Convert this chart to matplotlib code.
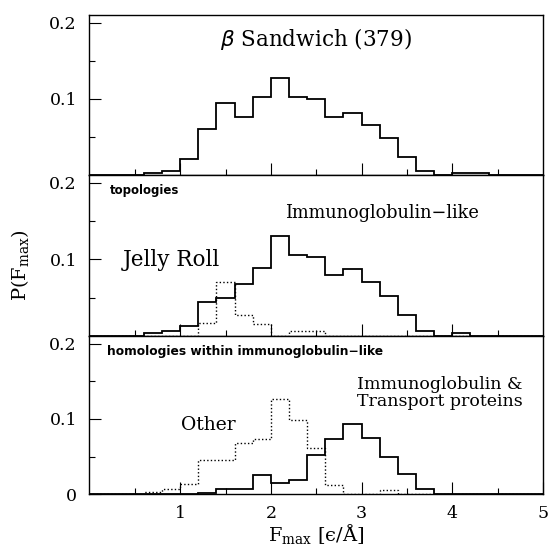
import numpy as np
import matplotlib
matplotlib.use("Agg")
import matplotlib.pyplot as plt
from matplotlib.ticker import FixedLocator, FixedFormatter

# Histogram bins of F_max (width 0.2 from 0 to 5)
bin_edges = np.round(np.arange(0, 5.0001, 0.2), 2)

# beta sandwich, all 379 structures
sandwich_all = [0, 0, 0, 0.0026, 0.005, 0.021, 0.061, 0.095, 0.076, 0.103,
                0.127, 0.103, 0.100, 0.076, 0.082, 0.066, 0.048, 0.024, 0.005, 0,
                0.0026, 0.0026, 0, 0, 0]

# topologies
immuno_like = [0, 0, 0, 0.004, 0.007, 0.013, 0.045, 0.049, 0.068, 0.089,
               0.131, 0.106, 0.103, 0.079, 0.087, 0.071, 0.052, 0.027, 0.007, 0,
               0.004, 0, 0, 0, 0]
jelly_roll = [0, 0, 0, 0, 0, 0, 0.017, 0.071, 0.027, 0.016,
              0, 0.006, 0.006, 0, 0, 0, 0, 0, 0, 0,
              0, 0, 0, 0, 0]

# homologies within immunoglobulin-like
immuno_transport = [0, 0, 0, 0, 0, 0, 0.002, 0.007, 0.007, 0.025,
                    0.015, 0.019, 0.052, 0.073, 0.093, 0.075, 0.049, 0.027, 0.007, 0,
                    0, 0, 0, 0, 0]
other = [0, 0, 0, 0.003, 0.007, 0.013, 0.045, 0.045, 0.068, 0.073,
         0.127, 0.098, 0.061, 0.012, 0, 0, 0.006, 0, 0, 0,
         0, 0, 0, 0, 0]

x_ticks = [1, 2, 3, 4, 5]
x_tick_labels = ["1", "2", "3", "4", "5"]

plt.rcParams["font.family"] = ["DejaVu Serif", "DejaVu Sans"]

fig = plt.figure(figsize=(5.49, 5.5), dpi=100)
left, right = 0.163, 0.989
bounds = [(0.6818, 0.9727), (0.389, 0.6818), (0.1013, 0.389)]
axes = [fig.add_axes([left, b, right - left, t - b]) for b, t in bounds]

lw = 1.3
dotted = (0, (1, 1.6))
axes[0].stairs(sandwich_all, bin_edges, color="black", lw=lw, baseline=None)
axes[1].stairs(immuno_like, bin_edges, color="black", lw=lw, baseline=None)
axes[1].stairs(jelly_roll, bin_edges, color="black", lw=1.0, ls=dotted, baseline=None)
axes[2].stairs(immuno_transport, bin_edges, color="black", lw=lw, baseline=None)
axes[2].stairs(other, bin_edges, color="black", lw=1.0, ls=dotted, baseline=None)

for i, ax in enumerate(axes):
    ax.set_xlim(0, 5)
    ax.set_ylim(0, 0.21)
    for s in ax.spines.values():
        s.set_linewidth(1.0)
    ax.xaxis.set_major_locator(FixedLocator([1, 2, 3, 4]))
    ax.xaxis.set_minor_locator(FixedLocator([0.5, 1.5, 2.5, 3.5, 4.5]))
    if i == 2:
        ax.yaxis.set_major_locator(FixedLocator([0, 0.1, 0.2]))
        ax.yaxis.set_major_formatter(FixedFormatter(["0", "0.1", "0.2"]))
    else:
        ax.yaxis.set_major_locator(FixedLocator([0.1, 0.2]))
        ax.yaxis.set_major_formatter(FixedFormatter(["0.1", "0.2"]))
    ax.yaxis.set_minor_locator(FixedLocator([0.05, 0.15]))
    ax.tick_params(which="both", direction="in", top=False, right=False, width=0.8)
    ax.tick_params(which="major", length=8.4, labelsize=12.5)
    ax.tick_params(which="minor", length=4.3)
    ax.tick_params(axis="y", which="major", pad=9)
    if i < 2:
        ax.tick_params(axis="x", labelbottom=False)

axes[2].xaxis.set_major_locator(FixedLocator(x_ticks))
axes[2].xaxis.set_major_formatter(FixedFormatter(x_tick_labels))
axes[2].tick_params(axis="x", which="major", pad=8)

axes[0].text(2.50, 0.179, r"$\beta$ Sandwich (379)", ha="center", va="center", fontsize=15.5)
axes[1].text(0.23, 0.190, "topologies", ha="left", va="center", fontsize=8.5,
             fontweight="bold", family="DejaVu Sans")
axes[1].text(3.23, 0.160, "Immunoglobulin\u2212like", ha="center", va="center", fontsize=12.8)
axes[1].text(0.905, 0.099, "Jelly Roll", ha="center", va="center", fontsize=15.5)
axes[2].text(0.195, 0.190, "homologies within immunoglobulin\u2212like", ha="left",
             va="center", fontsize=8.8, fontweight="bold", family="DejaVu Sans")
axes[2].text(3.86, 0.1345, "Immunoglobulin &\nTransport proteins", ha="center",
             va="center", fontsize=12.5, linespacing=1.0)
axes[2].text(1.31, 0.0925, "Other", ha="center", va="center", fontsize=13.5)

axes[2].set_xlabel("F$_{\\mathregular{max}}$ [\u03f5/Å]", fontsize=14, labelpad=0)
fig.text(0.038, 0.518, r"P(F$_{\mathregular{max}}$)", rotation=90, ha="center",
         va="center", fontsize=14)

fig.savefig("out.png", dpi=100)
